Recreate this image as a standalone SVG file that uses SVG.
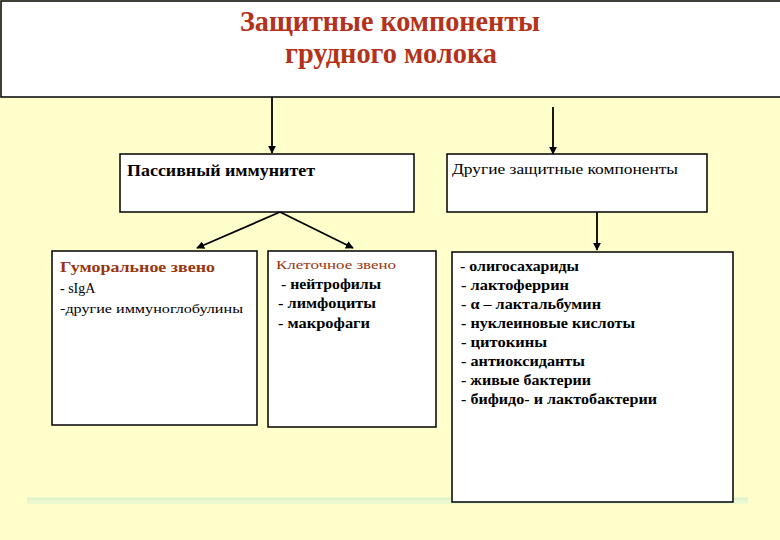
<svg xmlns="http://www.w3.org/2000/svg" width="780" height="540" viewBox="0 0 780 540">
<style>
.box{fill:#ffffff;stroke:#000000;stroke-width:1.5}
.con{stroke:#000000;stroke-width:1.8;fill:none}
.title{font-family:"Liberation Serif","DejaVu Serif",serif;font-weight:bold;font-size:30px;fill:#b5321a}
.sub{font-family:"Liberation Serif","DejaVu Serif",serif;fill:#9a3510}
.t{font-family:"Liberation Serif","DejaVu Serif",serif;fill:#000000}
.b{font-weight:bold}
</style>
<defs>
<marker id="arr" viewBox="0 0 10 10" refX="9" refY="5" markerWidth="8" markerHeight="8" markerUnits="userSpaceOnUse" orient="auto">
<path d="M0,0 L10,5 L0,10 z" fill="#000000"/>
</marker>
</defs>
<rect x="0" y="0" width="780" height="540" fill="#ffffcc"/>
<rect x="27" y="497" width="721" height="7" fill="#eaf8d0"/>
<line x1="27" y1="499" x2="748" y2="499" stroke="#dcf0c4" stroke-width="1.5"/>

<g id="title">
<rect class="box" x="1" y="1" width="800" height="96"/>
<text class="title" x="390" y="31" text-anchor="middle" textLength="300" lengthAdjust="spacingAndGlyphs">Защитные компоненты</text>
<text class="title" x="391" y="63" text-anchor="middle" textLength="212" lengthAdjust="spacingAndGlyphs">грудного молока</text>
</g>

<g id="passive">
<rect class="box" x="120" y="154" width="294" height="58"/>
<text class="t b" x="127" y="176" font-size="16" textLength="188" lengthAdjust="spacingAndGlyphs">Пассивный иммунитет</text>
</g>

<g id="other">
<rect class="box" x="447" y="154" width="260" height="58"/>
<text class="t" x="452" y="174" font-size="14" textLength="226" lengthAdjust="spacingAndGlyphs">Другие защитные компоненты</text>
</g>

<g id="humoral">
<rect class="box" x="52" y="251" width="205" height="174"/>
<text class="sub b" x="60" y="272" font-size="15" textLength="155" lengthAdjust="spacingAndGlyphs">Гуморальное звено</text>
<text class="t" x="60" y="293" font-size="14"><tspan font-weight="bold">-</tspan> sIgA</text>
<text class="t" x="60" y="313" font-size="13" textLength="183" lengthAdjust="spacingAndGlyphs">-другие иммуноглобулины</text>
</g>

<g id="cellular">
<rect class="box" x="268" y="251" width="168" height="176"/>
<text class="sub" x="276" y="269" font-size="13" textLength="120" lengthAdjust="spacingAndGlyphs">Клеточное звено</text>
<text class="t b" x="281" y="289" font-size="14" textLength="100" lengthAdjust="spacingAndGlyphs">- нейтрофилы</text>
<text class="t b" x="278" y="308" font-size="14" textLength="98" lengthAdjust="spacingAndGlyphs">- лимфоциты</text>
<text class="t b" x="278" y="328" font-size="14" textLength="92" lengthAdjust="spacingAndGlyphs">- макрофаги</text>
</g>

<g id="list">
<rect class="box" x="452" y="252" width="281" height="250"/>
<text class="t b" x="460" y="271" font-size="14" textLength="119" lengthAdjust="spacingAndGlyphs">- олигосахариды</text>
<text class="t b" x="461" y="290" font-size="14" textLength="108" lengthAdjust="spacingAndGlyphs">- лактоферрин</text>
<text class="t b" x="461" y="309" font-size="14" textLength="140" lengthAdjust="spacingAndGlyphs">- α – лактальбумин</text>
<text class="t b" x="461" y="328" font-size="14" textLength="174" lengthAdjust="spacingAndGlyphs">- нуклеиновые кислоты</text>
<text class="t b" x="461" y="347" font-size="14" textLength="86" lengthAdjust="spacingAndGlyphs">- цитокины</text>
<text class="t b" x="461" y="366" font-size="14" textLength="124" lengthAdjust="spacingAndGlyphs">- антиоксиданты</text>
<text class="t b" x="461" y="385" font-size="14" textLength="130" lengthAdjust="spacingAndGlyphs">- живые бактерии</text>
<text class="t b" x="461" y="404" font-size="14" textLength="196" lengthAdjust="spacingAndGlyphs">- бифидо- и лактобактерии</text>
</g>

<g id="connectors">
<line class="con" x1="272" y1="97" x2="272" y2="153" marker-end="url(#arr)"/>
<line class="con" x1="553" y1="107" x2="553" y2="154" marker-end="url(#arr)"/>
<line class="con" x1="280" y1="212" x2="197" y2="248" marker-end="url(#arr)"/>
<line class="con" x1="280" y1="212" x2="353" y2="248" marker-end="url(#arr)"/>
<line class="con" x1="597" y1="212" x2="597" y2="250" marker-end="url(#arr)"/>
</g>
</svg>
